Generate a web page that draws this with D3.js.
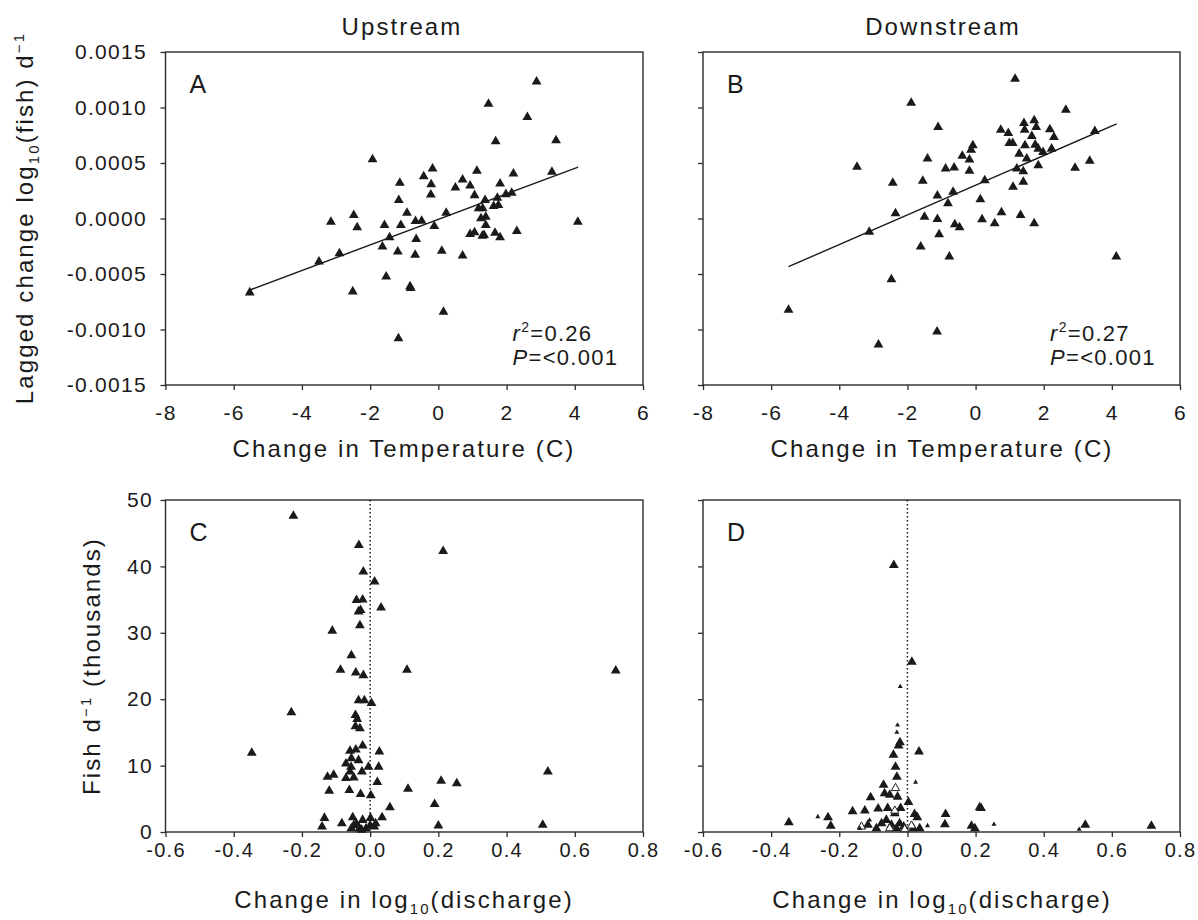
<!DOCTYPE html>
<html>
<head>
<meta charset="utf-8">
<script src="https://cdn.jsdelivr.net/npm/d3@7"></script>
<style>
  body { margin: 0; background: #fff; }
  svg { display: block; font-family: "Liberation Sans", Arial, sans-serif; }
  text { fill: #1a1a1a; }
</style>
</head>
<body>
<svg id="chart" width="1198" height="920"></svg>
<script>
// --- tick labels ---
const tempTicks = [-8, -6, -4, -2, 0, 2, 4, 6];
const lagTicks = [-0.0015, -0.001, -0.0005, 0, 0.0005, 0.001, 0.0015];
const dischargeTicks = [-0.6, -0.4, -0.2, 0, 0.2, 0.4, 0.6, 0.8];
const fishTicks = [0, 10, 20, 30, 40, 50];

// --- panel A: upstream, temperature vs lagged change ---
const upTemp = [-5.53, -3.50, -2.90, -3.15, -2.48, -2.38, -2.51, -1.93, -1.58, -1.43, -1.64, -1.53, -1.17,
  -1.13, -1.16, -0.92, -1.10, -1.19, -0.83, -0.81, -0.67, -0.49, -0.65, -0.68, -0.43, -0.17, -0.21, -0.22,
  -0.12, 0.10, 0.15, 0.23, 0.50, 0.71, 0.71, 0.93, 1.06, 1.13, 0.93, 1.06, 1.18, 1.30, 1.37, 1.25, 1.39,
  1.39, 1.29, 1.34, 1.66, 1.81, 1.62, 1.76, 1.73, 1.81, 1.98, 2.15, 2.20, 2.30, 1.47, 1.68, 2.61, 2.88,
  3.45, 3.33, 4.09];
const upLag = [-0.000667, -0.000389, -0.000314, -0.000030, 0.000030, -0.000081, -0.000658, 0.000533,
  -0.000060, -0.000171, -0.000254, -0.000524, -0.001080, 0.000320, 0.000165, 0.000051, -0.000060,
  -0.000299, -0.000613, -0.000628, -0.000024, -0.000021, -0.000186, -0.000329, 0.000380, 0.000449,
  0.000308, 0.000215, -0.000069, -0.000293, -0.000841, 0.000051, 0.000278, 0.000350, -0.000335,
  0.000296, 0.000209, 0.000428, -0.000141, -0.000126, 0.000090, 0.000090, 0.000165, 0.000000,
  0.000015, -0.000060, -0.000156, -0.000150, -0.000129, -0.000171, 0.000111, 0.000120, 0.000186,
  0.000314, 0.000218, 0.000230, 0.000404, -0.000114, 0.001032, 0.000694, 0.000913, 0.001233,
  0.000703, 0.000419, -0.000030];
const upFitTemp = [-5.53, 4.10];
const upFitLag = [-0.000644, 0.000463];

// --- panel B: downstream, temperature vs lagged change ---
const downTemp = [-5.49, -3.48, -3.12, -2.85, -2.47, -2.43, -2.35, -1.89, -1.55, -1.50, -1.61, -1.41,
  -1.13, -1.10, -1.12, -1.07, -1.12, -0.88, -0.77, -0.81, -0.66, -0.63, -0.61, -0.47, -0.39, -0.18,
  -0.18, -0.13, -0.08, 0.14, 0.19, 0.27, 0.56, 0.76, 0.74, 0.96, 0.99, 1.09, 1.10, 1.16, 1.21, 1.28,
  1.32, 1.40, 1.40, 1.42, 1.44, 1.45, 1.50, 1.65, 1.72, 1.72, 1.78, 1.75, 1.84, 1.84, 1.98, 2.18, 2.30,
  2.23, 2.65, 2.92, 3.35, 3.50, 4.13];
const downLag = [-0.000823, 0.000464, -0.000120, -0.001137, -0.000548, 0.000320, 0.000045, 0.001041,
  0.000338, 0.000015, -0.000254, 0.000539, -0.001020, 0.000823, -0.000006, -0.000144, 0.000206,
  0.000449, -0.000344, 0.000135, 0.000239, 0.000458, -0.000054, -0.000081, 0.000563, 0.000530,
  0.000428, 0.000619, 0.000658, 0.000171, -0.000009, 0.000344, -0.000045, 0.000054, 0.000799,
  0.000769, 0.000679, 0.000679, 0.000284, 0.001257, 0.000449, 0.000583, 0.000030, 0.000425,
  0.000329, 0.000859, 0.000799, 0.000658, 0.000539, 0.000742, 0.000883, -0.000045, 0.000823,
  0.000664, 0.000479, 0.000628, 0.000598, 0.000802, 0.000733, 0.000628, 0.000978, 0.000455,
  0.000518, 0.000787, -0.000344];
const downFitTemp = [-5.49, 4.14];
const downFitLag = [-0.000434, 0.000853];

// --- panel C: upstream, discharge vs fish per day (thousands) ---
const upDischarge = [-0.225, -0.033, 0.214, -0.020, 0.013, -0.040, -0.022, -0.034, -0.028, 0.032, -0.030,
  -0.111, -0.055, -0.087, -0.042, -0.020, 0.108, -0.034, -0.017, 0.004, -0.231, -0.043, -0.038, -0.043,
  -0.030, -0.022, -0.059, -0.042, 0.027, -0.347, -0.055, -0.034, -0.071, -0.056, -0.005, 0.025, -0.059,
  -0.024, -0.125, -0.107, -0.071, -0.048, 0.521, 0.208, 0.254, 0.021, -0.120, -0.061, -0.028, 0.002,
  0.111, 0.189, 0.058, -0.134, -0.141, -0.083, -0.051, -0.041, -0.022, 0.001, 0.016, 0.035, -0.055,
  -0.031, -0.012, 0.200, 0.506, 0.720, -0.048, -0.025, 0.000, 0.012];
const upFish = [47.6, 43.2, 42.3, 39.2, 37.7, 34.9, 35.0, 33.2, 33.4, 33.8, 31.1, 30.3, 26.6, 24.4, 24.0,
  23.6, 24.4, 19.8, 19.8, 19.4, 18.0, 17.6, 17.0, 15.9, 15.6, 13.0, 12.2, 12.4, 12.1, 11.9, 11.1, 10.8,
  10.3, 9.8, 9.8, 9.8, 9.1, 9.1, 8.3, 8.6, 8.1, 8.2, 9.1, 7.7, 7.3, 7.5, 6.2, 6.3, 5.7, 5.5, 6.5, 4.2,
  3.7, 2.1, 0.8, 1.3, 2.2, 1.3, 1.8, 2.1, 1.3, 2.2, 0.55, 0.55, 0.55, 0.95, 1.05, 24.3, 1.0, 0.3, 1.0, 0.8];

// --- panel D: downstream, discharge vs fish per day (thousands) ---
const downDischarge = [-0.040, 0.013, -0.022, -0.026, 0.034, -0.041, -0.035, -0.031, -0.070, -0.067,
  -0.052, -0.029, -0.108, 0.003, -0.161, -0.125, -0.086, -0.058, -0.020, -0.037, 0.021, 0.029, 0.112,
  0.110, 0.212, 0.216, -0.348, -0.233, -0.225, 0.188, 0.198, 0.522, 0.716, -0.076, -0.062, -0.047,
  -0.023, -0.011, 0.017, 0.036, -0.116, -0.091, -0.032];
const downFish = [40.2, 25.6, 13.5, 13.0, 12.1, 11.6, 9.8, 8.3, 7.1, 5.8, 5.6, 5.3, 5.2, 4.5, 3.1, 3.2,
  3.5, 3.6, 3.6, 2.8, 2.7, 2.2, 2.7, 1.15, 3.7, 3.6, 1.45, 2.2, 0.9, 0.9, 0.55, 1.05, 0.9, 1.3, 1.8,
  1.05, 1.3, 0.8, 0.55, 0.55, 1.05, 0.55, 0.55];
// small filled triangles
const downSmallDischarge = [-0.021, -0.029, -0.031, 0.024, -0.263, 0.059, 0.254, 0.504, -0.140, -0.111];
const downSmallFish = [21.9, 16.1, 15.0, 7.5, 2.3, 0.95, 1.15, 0.4, 0.55, 1.8];
// open triangles
const downOpenDischarge = [-0.035, -0.037, -0.052, -0.008, 0.012, -0.135];
const downOpenFish = [6.6, 3.2, 0.55, 0.4, 0.95, 0.8];

const ink = "#1a1a1a";
const svg = d3.select("#chart");

const tempX = (x0, x1) => d3.scaleLinear().domain([-8, 6]).range([x0, x1]);
const lagY = d3.scaleLinear().domain([-0.0015, 0.0015]).range([385, 52]);
const qX = (x0, x1) => d3.scaleLinear().domain([-0.6, 0.8]).range([x0, x1]);
const fishY = d3.scaleLinear().domain([0, 50]).range([832, 500]);

function drawPanel(opt) {
    const g = svg.append("g");
    const x = opt.x, y = opt.y;
    const [x0, x1] = x.range();
    const [y1, y0] = y.range();

    g.append("rect")
        .attr("x", x0).attr("y", y0)
        .attr("width", x1 - x0).attr("height", y1 - y0)
        .attr("fill", "none").attr("stroke", "#2a2a2a").attr("stroke-width", 1.4);

    const xAxis = g.append("g")
        .attr("transform", `translate(0,${y1})`)
        .call(d3.axisBottom(x).tickValues(opt.xTicks).tickSize(5).tickSizeOuter(0)
            .tickPadding(opt.xPad).tickFormat(opt.xFmt));
    const yAxis = g.append("g")
        .attr("transform", `translate(${x0},0)`)
        .call(d3.axisLeft(y).tickValues(opt.yTicks).tickSize(5).tickSizeOuter(0)
            .tickPadding(opt.yPad).tickFormat(opt.showY ? opt.yFmt : () => ""));
    [xAxis, yAxis].forEach(a => {
        a.select(".domain").remove();
        a.selectAll("line").attr("stroke", "#2a2a2a").attr("stroke-width", 1.3);
        a.selectAll("text")
            .attr("fill", ink)
            .style("font-family", "'Liberation Sans', Arial, sans-serif")
            .style("font-size", "21px")
            .style("letter-spacing", "1.3px");
    });
    xAxis.selectAll("text").style("font-size", opt.xTickSize + "px");

    // panel letter
    g.append("text")
        .attr("x", x0 + 24).attr("y", y0 + 41)
        .style("font-size", "25px")
        .text(opt.letter);
    return g;
}

function triangles(g, x, y, xs, ys, size, fill, stroke) {
    g.append("g").selectAll("path")
        .data(xs.map((d, i) => [d, ys[i]]))
        .join("path")
        .attr("transform", d => `translate(${x(d[0])},${y(d[1])})`)
        .attr("d", d3.symbol(d3.symbolTriangle, size))
        .attr("fill", fill)
        .attr("stroke", stroke || "none")
        .attr("stroke-width", stroke ? 1 : 0);
}

function stats(g, x0, r2) {
    const t1 = g.append("text").attr("x", x0 + 347).attr("y", 341)
        .style("font-size", "22px").style("letter-spacing", "1.3px");
    t1.append("tspan").style("font-style", "italic").text("r");
    t1.append("tspan").attr("dy", -9).style("font-size", "14px").text("2");
    t1.append("tspan").attr("dy", 9).text("=" + r2);
    const t2 = g.append("text").attr("x", x0 + 347).attr("y", 365)
        .style("font-size", "22px").style("letter-spacing", "1.3px");
    t2.append("tspan").style("font-style", "italic").text("P");
    t2.append("tspan").text("=<0.001");
}

// ---- panel A ----
const xA = tempX(165.5, 643);
const gA = drawPanel({ x: xA, y: lagY, xTicks: tempTicks, yTicks: lagTicks, xPad: 15, yPad: 13.5,
    xFmt: d => String(d), yFmt: d => d.toFixed(4), showY: true, letter: "A", xTickSize: 21 });
gA.append("line")
    .attr("x1", xA(upFitTemp[0])).attr("y1", lagY(upFitLag[0]))
    .attr("x2", xA(upFitTemp[1])).attr("y2", lagY(upFitLag[1]))
    .attr("stroke", ink).attr("stroke-width", 1.4);
triangles(gA, xA, lagY, upTemp, upLag, 42, ink);
stats(gA, 165.5, "0.26");

// ---- panel B ----
const xB = tempX(703, 1180);
const gB = drawPanel({ x: xB, y: lagY, xTicks: tempTicks, yTicks: lagTicks, xPad: 15, yPad: 13.5,
    xFmt: d => String(d), yFmt: d => d.toFixed(4), showY: false, letter: "B", xTickSize: 21 });
gB.append("line")
    .attr("x1", xB(downFitTemp[0])).attr("y1", lagY(downFitLag[0]))
    .attr("x2", xB(downFitTemp[1])).attr("y2", lagY(downFitLag[1]))
    .attr("stroke", ink).attr("stroke-width", 1.4);
triangles(gB, xB, lagY, downTemp, downLag, 42, ink);
stats(gB, 703, "0.27");

// ---- panel C ----
const xC = qX(165.5, 643);
const gC = drawPanel({ x: xC, y: fishY, xTicks: dischargeTicks, yTicks: fishTicks, xPad: 6, yPad: 7.5,
    xFmt: d => d.toFixed(1), yFmt: d => String(d), showY: true, letter: "C", xTickSize: 20 });
gC.append("line")
    .attr("x1", xC(0)).attr("x2", xC(0)).attr("y1", fishY(50)).attr("y2", fishY(0))
    .attr("stroke", ink).attr("stroke-width", 1.5).attr("stroke-dasharray", "1.5,2.5");
triangles(gC, xC, fishY, upDischarge, upFish, 42, ink);

// ---- panel D ----
const xD = qX(703, 1180);
const gD = drawPanel({ x: xD, y: fishY, xTicks: dischargeTicks, yTicks: fishTicks, xPad: 6, yPad: 7.5,
    xFmt: d => d.toFixed(1), yFmt: d => String(d), showY: false, letter: "D", xTickSize: 20 });
gD.append("line")
    .attr("x1", xD(0)).attr("x2", xD(0)).attr("y1", fishY(50)).attr("y2", fishY(0))
    .attr("stroke", ink).attr("stroke-width", 1.5).attr("stroke-dasharray", "1.5,2.5");
triangles(gD, xD, fishY, downDischarge, downFish, 42, ink);
triangles(gD, xD, fishY, downOpenDischarge, downOpenFish, 30, "#fff", ink);
triangles(gD, xD, fishY, downSmallDischarge, downSmallFish, 11, ink);

// ---- titles and axis labels ----
const big = sel => sel.style("font-size", "24px").style("letter-spacing", "2.1px").attr("text-anchor", "middle");
svg.append("text").attr("x", 402).attr("y", 35).call(big).text("Upstream");
svg.append("text").attr("x", 943).attr("y", 35).call(big).text("Downstream");

[404, 942].forEach(cx => {
    svg.append("text").attr("x", cx).attr("y", 457).call(big).text("Change in Temperature (C)");
    const t = svg.append("text").attr("x", cx).attr("y", 908).call(big);
    t.append("tspan").text("Change in log");
    t.append("tspan").attr("dy", 6).style("font-size", "15px").text("10");
    t.append("tspan").attr("dy", -6).text("(discharge)");
});

const yl1 = svg.append("text").attr("transform", "translate(33,218) rotate(-90)").call(big);
yl1.append("tspan").text("Lagged change log");
yl1.append("tspan").attr("dy", 6).style("font-size", "15px").text("10");
yl1.append("tspan").attr("dy", -6).text("(fish) d");
yl1.append("tspan").attr("dy", -9).style("font-size", "15px").text("\u22121");

const yl2 = svg.append("text").attr("transform", "translate(100,666) rotate(-90)").call(big);
yl2.append("tspan").text("Fish d");
yl2.append("tspan").attr("dy", -9).style("font-size", "15px").text("\u22121");
yl2.append("tspan").attr("dy", 9).text(" (thousands)");
</script>
</body>
</html>
